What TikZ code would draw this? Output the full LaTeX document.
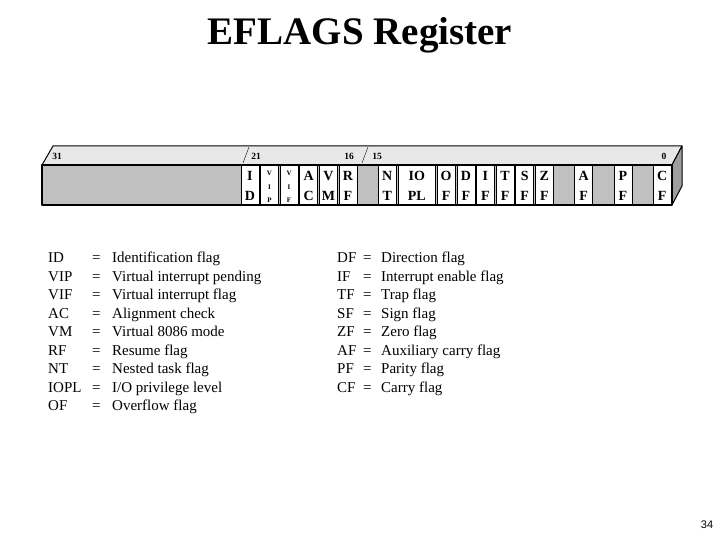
\documentclass[tikz,border=0pt]{standalone}
\usepackage{fontspec}
\setmainfont{Liberation Serif}
\newfontfamily\pagefont{Liberation Sans}
\definecolor{facegray}{RGB}{192,192,192}
\definecolor{topgray}{RGB}{232,232,232}
\definecolor{sidegray}{RGB}{158,158,158}
\begin{document}
\begin{tikzpicture}[x=1pt,y=-1pt,line join=round,
  cell/.style={draw=black,fill=white,line width=0.6pt},
  flag/.style={font=\bfseries\fontsize{14}{14}\selectfont,inner sep=0pt,anchor=base},
  tinyflag/.style={font=\bfseries\fontsize{7}{7}\selectfont,inner sep=0pt,anchor=base},
  bitno/.style={font=\bfseries\fontsize{9.5}{9.5}\selectfont,inner sep=0pt,anchor=base},
  legend/.style={font=\fontsize{15}{15}\selectfont,inner sep=0pt,anchor=base west}]
\useasboundingbox (0,0) rectangle (720,540);
\def\bw{19.636}
\node[font=\bfseries\fontsize{39}{39}\selectfont,inner sep=0pt,anchor=base] (title) at (360,45) {EFLAGS Register};
% register block
\draw[fill=topgray,line width=1pt] (42,165) -- (53,146) -- (682,146) -- (672,165) -- cycle;
\draw[fill=sidegray,line width=1pt] (672,165) -- (682,146) -- (682,186) -- (672,205) -- cycle;
\draw[fill=facegray,line width=1.2pt] (42,165) rectangle (672,205);
\draw (243,163) -- (249,147);
\draw (362,163) -- (368,147);
\node[bitno] (n31) at (57,160) {31};
\node[bitno] (n21) at (256,160) {21};
\node[bitno] (n16) at (349,160) {16};
\node[bitno] (n15) at (377,160) {15};
\node[bitno] (n0) at (664,160) {0};
% one-bit flags
\foreach \b/\ta/\tb in {21/I/D,18/A/C,17/V/M,16/R/F,14/N/T,11/O/F,10/D/F,9/I/F,8/T/F,7/S/F,6/Z/F,4/A/F,2/P/F,0/C/F} {
  \draw[cell] ({672-(\b+1)*\bw+0.8},165.6) rectangle ({672-\b*\bw-0.8},204.4);
  \node[flag] (t\b) at ({672-(\b+0.5)*\bw},181) {\ta};
  \node[flag] (b\b) at ({672-(\b+0.5)*\bw},201) {\tb};
}
% VIP and VIF
\foreach \b/\tc in {20/P,19/F} {
  \draw[cell] ({672-(\b+1)*\bw+0.8},165.6) rectangle ({672-\b*\bw-0.8},204.4);
  \node[tinyflag] (v\b) at ({672-(\b+0.5)*\bw},176) {V};
  \node[tinyflag] (i\b) at ({672-(\b+0.5)*\bw},190) {I};
  \node[tinyflag] (p\b) at ({672-(\b+0.5)*\bw},203) {\tc};
}
% IOPL
\draw[cell] ({672-14*\bw+0.8},165.6) rectangle ({672-12*\bw-0.8},204.4);
\node[flag] (tiopl) at ({672-13*\bw},181) {IO};
\node[flag] (biopl) at ({672-13*\bw},201) {PL};
% legend
\foreach \ab/\txt [count=\i] in {ID/Identification flag,VIP/Virtual interrupt pending,VIF/Virtual interrupt flag,AC/Alignment check,VM/Virtual 8086 mode,RF/Resume flag,NT/Nested task flag,IOPL/{I/O privilege level},OF/Overflow flag} {
  \node[legend] (la\i) at (48,{244+18.5*\i}) {\ab};
  \node[legend] (le\i) at (92,{244+18.5*\i}) {=};
  \node[legend] (lt\i) at (112,{244+18.5*\i}) {\txt};
}
\foreach \ab/\txt [count=\i] in {DF/Direction flag,IF/Interrupt enable flag,TF/Trap flag,SF/Sign flag,ZF/Zero flag,AF/Auxiliary carry flag,PF/Parity flag,CF/Carry flag} {
  \node[legend] (ra\i) at (337,{244+18.5*\i}) {\ab};
  \node[legend] (re\i) at (363,{244+18.5*\i}) {=};
  \node[legend] (rt\i) at (381,{244+18.5*\i}) {\txt};
}
\node[font=\pagefont\fontsize{11}{11}\selectfont,inner sep=0pt,anchor=base] (page) at (707,528) {34};
\end{tikzpicture}
\end{document}
